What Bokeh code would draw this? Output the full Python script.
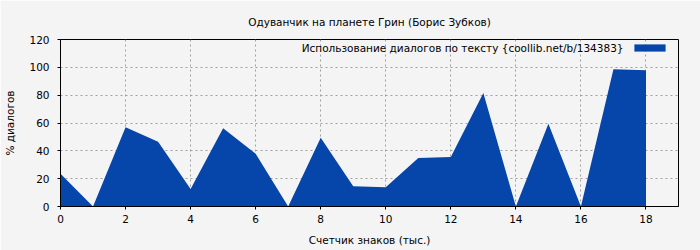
from bokeh.plotting import figure
from bokeh.models import Range1d, FixedTicker, Legend, LegendItem, Label
from bokeh.embed import file_html
from bokeh.resources import INLINE

x_vals = [0, 1, 2, 3, 4, 5, 6, 7, 8, 9, 10, 11, 12, 13, 14, 15, 16, 17, 18]
y_vals = [23.5, 0, 56.9, 46.6, 12.5, 56.2, 37.9, 0, 49.4, 14.6, 13.9, 34.8, 35.5, 81.6, 0, 59.5, 0, 98.6, 97.9]
x_ticks = [0, 2, 4, 6, 8, 10, 12, 14, 16, 18]
y_ticks = [0, 20, 40, 60, 80, 100, 120]
title_text = "Одуванчик на планете Грин (Борис Зубков)"
series_name = "Использование диалогов по тексту {coollib.net/b/134383}"
x_label = "Счетчик знаков (тыс.)"
y_label = "% диалогов"

FONT = "DejaVu Sans"
FS = "10.5px"
BG = "#f4f4f4"
FILL = "#0646aa"

p = figure(width=700, height=250, output_backend="svg", toolbar_location=None,
           x_range=Range1d(0, 19), y_range=Range1d(0, 120),
           min_border_left=60, min_border_right=22, min_border_top=39, min_border_bottom=44)
p.background_fill_color = BG
p.border_fill_color = BG
p.outline_line_color = "black"
p.outline_line_width = 1

p.title.text = title_text
p.title.align = "center"
p.title.text_font = FONT
p.title.text_font_size = FS
p.title.text_font_style = "normal"
p.title.text_color = "black"
p.title.offset = 0
p.title.standoff = 24

r = p.varea(x=x_vals, y1=[0] * len(x_vals), y2=y_vals, fill_color=FILL)

for ax in (p.xaxis[0], p.yaxis[0]):
    ax.major_label_text_font = FONT
    ax.major_label_text_font_size = FS
    ax.major_label_text_color = "black"
    ax.axis_label_text_font = FONT
    ax.axis_label_text_font_size = FS
    ax.axis_label_text_font_style = "normal"
    ax.axis_label_text_color = "black"
    ax.minor_tick_line_color = None
    ax.major_tick_out = 3
    ax.major_tick_in = 0
    ax.axis_line_color = "black"

p.xaxis[0].ticker = FixedTicker(ticks=x_ticks)
p.yaxis[0].ticker = FixedTicker(ticks=y_ticks)
p.xaxis[0].axis_label = x_label
p.yaxis[0].axis_label = y_label
p.xaxis[0].major_label_standoff = 5
p.yaxis[0].major_label_standoff = 8
p.xaxis[0].axis_label_standoff = 8
p.yaxis[0].axis_label_standoff = 10

for g in (p.xgrid[0], p.ygrid[0]):
    g.grid_line_color = "#a0a0a0"
    g.grid_line_dash = "2 3"
    g.grid_line_width = 1

# legend: label text to the left of the swatch
legend_label = Label(x=563, y=159, x_units="screen", y_units="screen",
                     text=series_name, text_align="right", text_baseline="middle",
                     text_font=FONT, text_font_size=FS, text_color="black")
legend_swatch = Legend(items=[LegendItem(label=" ", renderers=[r])],
                       location=(570, 154), border_line_color=None,
                       background_fill_alpha=0, label_text_font_size="1px",
                       glyph_width=39, glyph_height=9,
                       padding=0, margin=0, spacing=0, label_standoff=0,
                       label_width=0, label_height=9)
p.add_layout(legend_label)
p.add_layout(legend_swatch)

open("out.html", "w").write(file_html(p, INLINE))
